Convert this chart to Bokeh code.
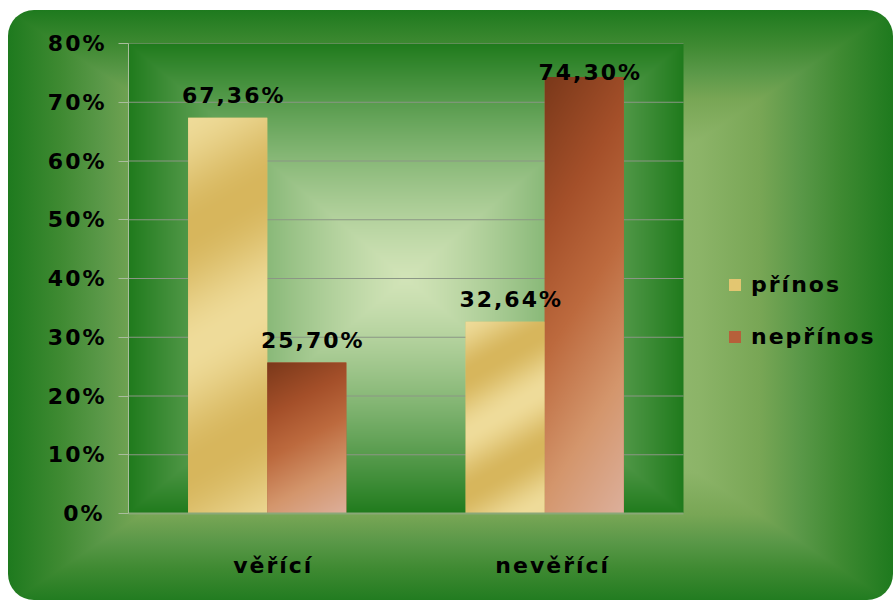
import numpy as np
from bokeh.plotting import figure
from bokeh.models import (Range1d, FixedTicker, PrintfTickFormatter,
                          Legend, LegendItem, ColumnDataSource)
from bokeh.core.properties import value
from bokeh.embed import file_html
from bokeh.resources import INLINE

# ---------------- data ----------------
categories = ["věřící", "nevěřící"]
series_names = ["přínos", "nepřínos"]
prinos = [67.36, 32.64]
neprinos = [25.70, 74.30]
y_ticks = [0, 10, 20, 30, 40, 50, 60, 70, 80]

# ---------------- style ----------------
FONT = "DejaVu Sans"
FS = "22px"
BAR_W = 0.285
Y_MAX = 80
W, H = 893, 600
BORDER_L, BORDER_T, BORDER_B = 128, 43, 87
PLOT_W = 555                       # width of the green plot area in px
FRAME_W = W - BORDER_L             # frame also hosts the legend on its right
FRAME_H = H - BORDER_T - BORDER_B
N = len(categories)
X_END = N * FRAME_W / PLOT_W
GOLD = "#e3c671"
BROWN = "#b6603a"

cat_x = [i + 0.5 for i in range(N)]

p = figure(width=W, height=H,
           x_range=Range1d(0, X_END), y_range=Range1d(0, Y_MAX),
           output_backend="svg", toolbar_location=None,
           min_border_left=BORDER_L, min_border_right=0,
           min_border_top=BORDER_T, min_border_bottom=BORDER_B)

p.background_fill_alpha = 0
p.border_fill_alpha = 0
p.outline_line_color = None

# outer rounded background with rectangular "from centre" gradient
stops = "#1e7a1e 0%, #3f8a32 6%, #5a9848 10.5%, #78a655 15%, #8cb468 22%, #b4d294 50%, " \
        "#8cb468 78%, #78a655 85%, #5a9848 89.5%, #3f8a32 94%, #1e7a1e 100%"
p.styles = {
    "background-image": f"linear-gradient(to right, {stops}), linear-gradient(to bottom, {stops})",
    "background-blend-mode": "darken",
    "background-position": "8px 10px",
    "background-size": "885px 594px",
    "background-repeat": "no-repeat",
    "clip-path": "inset(10px 0px 0px 8px round 26px)",
    "letter-spacing": "2px",
}

def pack(rgb):
    h, w, _ = rgb.shape
    img = np.empty((h, w), dtype=np.uint32)
    v = img.view(dtype=np.uint8).reshape((h, w, 4))
    v[:, :, :3] = np.clip(rgb, 0, 255).astype(np.uint8)
    v[:, :, 3] = 255
    return img

def hexrgb(c):
    c = c.lstrip("#")
    return np.array([int(c[i:i + 2], 16) for i in (0, 2, 4)], dtype=float)

# plot-area background: rectangular gradient from centre
yy, xx = np.mgrid[0:FRAME_H, 0:PLOT_W] + 0.5
t = np.maximum(np.abs(xx / PLOT_W * 2 - 1), np.abs(yy / FRAME_H * 2 - 1)) ** 1.3
light, dark = hexrgb("#d2e4b8"), hexrgb("#207b1d")
bg = light * (1 - t)[..., None] + dark * t[..., None]
p.image_rgba(image=[pack(bg)], x=0, y=0, dw=N, dh=Y_MAX, level="image")

# horizontal grid lines, only across the plot area
p.segment(x0=[0] * len(y_ticks), x1=[N] * len(y_ticks), y0=y_ticks, y1=y_ticks,
          line_color="#8b9685", line_width=1, level="underlay")
p.xgrid.grid_line_color = None
p.ygrid.grid_line_color = None

# axes
p.yaxis.ticker = FixedTicker(ticks=y_ticks)
p.yaxis.formatter = PrintfTickFormatter(format="%d%%")
p.yaxis.axis_line_color = "#a9bd9c"
p.yaxis.major_tick_line_color = "#a9bd9c"
p.yaxis.major_tick_out = 10
p.yaxis.major_tick_in = 0
p.yaxis.minor_tick_line_color = None
p.yaxis.major_label_standoff = 18
p.xaxis.ticker = FixedTicker(ticks=cat_x)
p.xaxis.major_label_overrides = {x: c for x, c in zip(cat_x, categories)}
p.xaxis.bounds = (0, N)
p.xaxis.axis_line_color = "#8aa878"
p.xaxis.axis_line_width = 2
p.xaxis.major_tick_line_color = None
p.xaxis.minor_tick_line_color = None
p.xaxis.major_label_standoff = 33
for ax in (p.xaxis, p.yaxis):
    ax.major_label_text_font = FONT
    ax.major_label_text_font_style = "bold"
    ax.major_label_text_font_size = FS
    ax.major_label_text_color = "black"

# bars
x_prinos = [x - BAR_W / 2 for x in cat_x]
x_neprinos = [x + BAR_W / 2 for x in cat_x]
src = ColumnDataSource(dict(xp=x_prinos, xn=x_neprinos, prinos=prinos, neprinos=neprinos))
r1 = p.vbar(x="xp", top="prinos", width=BAR_W, source=src, fill_color=GOLD, line_color=None)
r2 = p.vbar(x="xn", top="neprinos", width=BAR_W, source=src, fill_color=BROWN, line_color=None)

# gradient textures laid over the bars
def gold_tex(h, w):
    py, px = np.mgrid[0:h, 0:w] + 0.5
    s = py + 0.57 * px
    m = 0.5 + 0.5 * np.cos(2 * np.pi * (s / (0.6 * h) - 0.48))
    lo, hi = hexrgb("#efdc9a"), hexrgb("#d7b65c")
    return lo * (1 - m)[..., None] + hi * m[..., None]

def brown_tex(h, w):
    py, px = np.mgrid[0:h, 0:w] + 0.5
    tt = 0.78 * py / h + 0.22 * px / w
    pos = [0, 0.28, 0.5, 0.75, 1.0]
    cols = np.array([hexrgb(c) for c in ["#7a381a", "#a5502a", "#bd6a3e", "#d4966c", "#ddb09c"]])
    return np.stack([np.interp(tt, pos, cols[:, k]) for k in range(3)], axis=-1)

px_w = int(round(BAR_W * PLOT_W / N))
for xs, vals, tex in ((x_prinos, prinos, gold_tex), (x_neprinos, neprinos, brown_tex)):
    for x, v in zip(xs, vals):
        h = max(2, int(round(v / Y_MAX * FRAME_H)))
        img = pack(np.flipud(tex(h, px_w)))
        p.image_rgba(image=[img], x=x - BAR_W / 2, y=0, dw=BAR_W, dh=v)

# data labels
LABEL_PAD = 3.75   # data units above bar top
LABEL_CAP = 4.9    # keep labels inside the top of the plot area
for xs, vals in ((x_prinos, prinos), (x_neprinos, neprinos)):
    ly = list(np.minimum(np.array(vals) + LABEL_PAD, Y_MAX - LABEL_CAP))
    txt = [f"{v:.2f}".replace(".", ",") + "%" for v in vals]
    ls = ColumnDataSource(dict(x=xs, y=ly, text=txt))
    p.text(x="x", y="y", text="text", source=ls,
           text_font=value(FONT), text_font_style="bold", text_font_size=FS,
           text_color="black", text_align="center", text_baseline="alphabetic")

legend = Legend(items=[LegendItem(label=series_names[0], renderers=[r1]),
                       LegendItem(label=series_names[1], renderers=[r2])],
                location=(594, 159))
legend.background_fill_alpha = 0
legend.border_line_alpha = 0
legend.padding = 5
legend.margin = 0
legend.glyph_width = 15
legend.glyph_height = 15
legend.label_standoff = 9
legend.spacing = 27
legend.label_text_font = FONT
legend.label_text_font_style = "bold"
legend.label_text_font_size = FS
legend.label_text_color = "black"
p.add_layout(legend, "center")

open("out.html", "w").write(file_html(p, INLINE))
